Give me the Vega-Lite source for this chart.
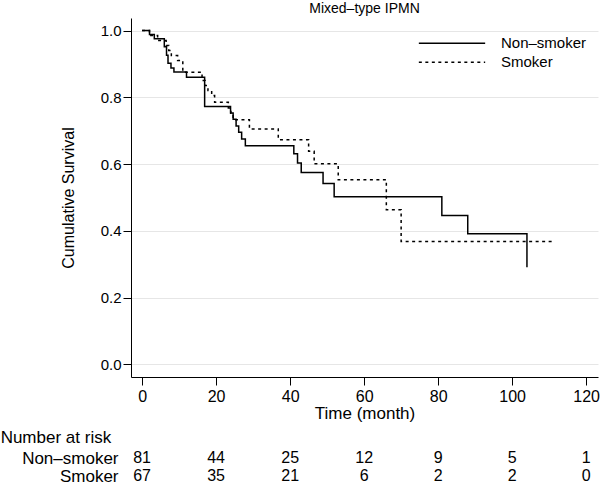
{
  "$schema": "https://vega.github.io/schema/vega-lite/v6.json",
  "padding": {"top": 2, "left": 0, "right": 0, "bottom": 0},
  "background": "white",
  "spacing": 8,
  "resolve": {"scale": {"x": "independent", "y": "independent"}},
  "config": {
    "font": "Liberation Sans",
    "view": {"stroke": null},
    "axis": {"domainColor": "black", "tickColor": "black", "labelColor": "black", "titleColor": "black", "titleFontWeight": "normal", "domainWidth": 1, "tickWidth": 1},
    "title": {"color": "black", "fontWeight": "normal"}
  },
  "datasets": {
    "km": [
      {"group": "Non–smoker", "time": 0, "surv": 1.0},
      {"group": "Non–smoker", "time": 2, "surv": 0.988},
      {"group": "Non–smoker", "time": 3.3, "surv": 0.975},
      {"group": "Non–smoker", "time": 6.0, "surv": 0.951},
      {"group": "Non–smoker", "time": 6.6, "surv": 0.926},
      {"group": "Non–smoker", "time": 7.0, "surv": 0.902},
      {"group": "Non–smoker", "time": 7.8, "surv": 0.888},
      {"group": "Non–smoker", "time": 8.6, "surv": 0.876},
      {"group": "Non–smoker", "time": 12, "surv": 0.860},
      {"group": "Non–smoker", "time": 16.9, "surv": 0.772},
      {"group": "Non–smoker", "time": 23.9, "surv": 0.753},
      {"group": "Non–smoker", "time": 24.6, "surv": 0.734},
      {"group": "Non–smoker", "time": 25.4, "surv": 0.714},
      {"group": "Non–smoker", "time": 26.1, "surv": 0.695},
      {"group": "Non–smoker", "time": 26.9, "surv": 0.675},
      {"group": "Non–smoker", "time": 27.9, "surv": 0.655},
      {"group": "Non–smoker", "time": 41, "surv": 0.631},
      {"group": "Non–smoker", "time": 42, "surv": 0.603},
      {"group": "Non–smoker", "time": 43, "surv": 0.575},
      {"group": "Non–smoker", "time": 48.9, "surv": 0.542},
      {"group": "Non–smoker", "time": 51.9, "surv": 0.502},
      {"group": "Non–smoker", "time": 81, "surv": 0.446},
      {"group": "Non–smoker", "time": 88, "surv": 0.391},
      {"group": "Non–smoker", "time": 104, "surv": 0.291},
      {"group": "Smoker", "time": 0, "surv": 1.0},
      {"group": "Smoker", "time": 2, "surv": 0.985},
      {"group": "Smoker", "time": 4.2, "surv": 0.970},
      {"group": "Smoker", "time": 6.5, "surv": 0.955},
      {"group": "Smoker", "time": 7.2, "surv": 0.940},
      {"group": "Smoker", "time": 7.9, "surv": 0.925},
      {"group": "Smoker", "time": 9.6, "surv": 0.910},
      {"group": "Smoker", "time": 11, "surv": 0.875},
      {"group": "Smoker", "time": 16.2, "surv": 0.850},
      {"group": "Smoker", "time": 17, "surv": 0.835},
      {"group": "Smoker", "time": 17.8, "surv": 0.820},
      {"group": "Smoker", "time": 18.8, "surv": 0.805},
      {"group": "Smoker", "time": 19.6, "surv": 0.785},
      {"group": "Smoker", "time": 23.3, "surv": 0.768},
      {"group": "Smoker", "time": 24, "surv": 0.752},
      {"group": "Smoker", "time": 24.6, "surv": 0.733},
      {"group": "Smoker", "time": 29, "surv": 0.705},
      {"group": "Smoker", "time": 36.8, "surv": 0.673},
      {"group": "Smoker", "time": 45, "surv": 0.638},
      {"group": "Smoker", "time": 46.5, "surv": 0.601},
      {"group": "Smoker", "time": 53, "surv": 0.553},
      {"group": "Smoker", "time": 66, "surv": 0.463},
      {"group": "Smoker", "time": 70, "surv": 0.368},
      {"group": "Smoker", "time": 111, "surv": 0.368}
    ],
    "risk": [
      {"group": "Non–smoker", "time": 0, "n": 81},
      {"group": "Non–smoker", "time": 20, "n": 44},
      {"group": "Non–smoker", "time": 40, "n": 25},
      {"group": "Non–smoker", "time": 60, "n": 12},
      {"group": "Non–smoker", "time": 80, "n": 9},
      {"group": "Non–smoker", "time": 100, "n": 5},
      {"group": "Non–smoker", "time": 120, "n": 1},
      {"group": "Smoker", "time": 0, "n": 67},
      {"group": "Smoker", "time": 20, "n": 35},
      {"group": "Smoker", "time": 40, "n": 21},
      {"group": "Smoker", "time": 60, "n": 6},
      {"group": "Smoker", "time": 80, "n": 2},
      {"group": "Smoker", "time": 100, "n": 2},
      {"group": "Smoker", "time": 120, "n": 0}
    ]
  },
  "vconcat": [
    {
      "width": 467,
      "height": 359,
      "title": {"text": "Mixed–type IPMN", "fontSize": 14, "offset": 2, "anchor": "middle"},
      "data": {"name": "km"},
      "mark": {"type": "line", "interpolate": "step-after", "strokeWidth": 1.5, "color": "black"},
      "encoding": {
        "x": {
          "field": "time", "type": "quantitative",
          "scale": {"domain": [-3, 123.2], "nice": false, "zero": false},
          "axis": {"values": [0, 20, 40, 60, 80, 100, 120], "title": "Time (month)", "tickSize": 8, "labelPadding": 3, "labelFontSize": 16, "titleFontSize": 17, "titlePadding": 1, "grid": false, "labelFlush": false}
        },
        "y": {
          "field": "surv", "type": "quantitative",
          "scale": {"domain": [-0.038, 1.0375], "nice": false, "zero": false},
          "axis": {"values": [0, 0.2, 0.4, 0.6, 0.8, 1], "format": ".1f", "title": "Cumulative Survival", "tickSize": 8, "labelPadding": 2, "labelFontSize": 15, "titleFontSize": 16, "titlePadding": 24, "grid": true, "gridColor": "#e6e6e6", "labelFlush": false}
        },
        "strokeDash": {
          "field": "group", "type": "nominal",
          "scale": {"domain": ["Non–smoker", "Smoker"], "range": [[1, 0], [3, 3.5]]},
          "legend": {"title": null, "orient": "none", "legendX": 287, "legendY": 16, "symbolType": "stroke", "symbolSize": 4400, "symbolStrokeWidth": 1.5, "symbolStrokeColor": "black", "labelFontSize": 15, "labelColor": "black", "labelOffset": 15, "clipHeight": 18.4, "rowPadding": 0, "padding": 0, "labelLimit": 200}
        }
      }
    },
    {
      "width": 467,
      "height": 36,
      "title": {"text": "Number at risk", "anchor": "start", "frame": "bounds", "fontSize": 17, "offset": 2, "dx": -21},
      "data": {"name": "risk"},
      "mark": {"type": "text", "fontSize": 16, "color": "black", "baseline": "middle"},
      "encoding": {
        "x": {"field": "time", "type": "quantitative", "scale": {"domain": [-3, 123.2], "nice": false, "zero": false}, "axis": null},
        "y": {"field": "group", "type": "ordinal", "sort": ["Non–smoker", "Smoker"], "scale": {"paddingInner": 0, "paddingOuter": 0}, "axis": {"title": null, "domain": false, "ticks": false, "labelFontSize": 17, "labelPadding": 13, "labelColor": "black"}},
        "text": {"field": "n", "type": "quantitative"}
      }
    }
  ]
}
